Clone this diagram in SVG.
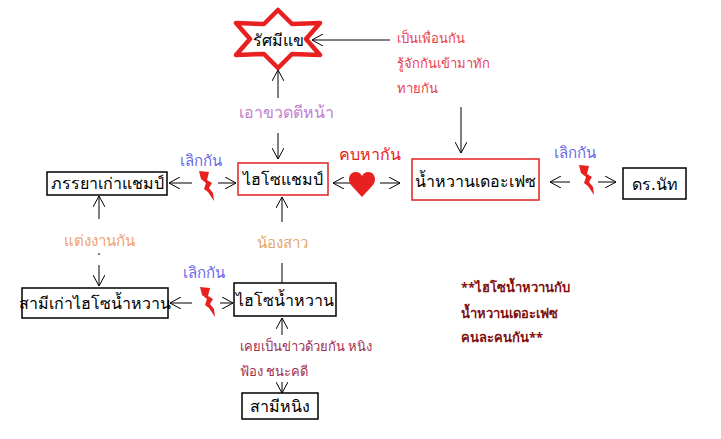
<svg xmlns="http://www.w3.org/2000/svg" width="721" height="439" viewBox="0 0 721 439" xmlns:xlink="http://www.w3.org/1999/xlink">
<style>
text{font-family:"Noto Sans","DejaVu Sans",sans-serif}
.n{font-size:16px;fill:#000;text-anchor:middle}
.bx{fill:#fff;stroke:#000;stroke-width:1.5}
.rb{fill:#fff;stroke:#e02020;stroke-width:1.5}
.c{stroke:#000;stroke-width:1;fill:none}
.blue{fill:#6868e8;font-size:15px;text-anchor:middle}
.lb{font-size:13px}
</style>
<defs>
<marker id="a" markerWidth="12" markerHeight="12" refX="11" refY="6" orient="auto" markerUnits="userSpaceOnUse">
<path d="M0,0 L11,6 L0,12" fill="none" stroke="#000"/></marker>
<path id="bolt" d="M-7,-15 L3,-14 L1,-6 L6,-3 L3,2 L7,7 L8,15 L2,6 L-2,3 L0,-3 L-5,-7 Z" fill="#e82020"/>
</defs>
<rect width="721" height="439" fill="#fff"/>
<g id="connectors" class="c">
<line x1="278" y1="98" x2="278" y2="70" marker-end="url(#a)"/>
<line x1="278" y1="133" x2="278" y2="159" marker-end="url(#a)"/>
<line x1="390" y1="40" x2="312" y2="40" marker-end="url(#a)"/>
<line x1="461" y1="107" x2="461" y2="153" marker-end="url(#a)"/>
<line x1="192" y1="183" x2="169" y2="183" marker-end="url(#a)"/>
<line x1="218" y1="183" x2="236" y2="183" marker-end="url(#a)"/>
<line x1="352" y1="183" x2="333" y2="183" marker-end="url(#a)"/>
<line x1="380" y1="183" x2="400" y2="183" marker-end="url(#a)"/>
<line x1="570" y1="182" x2="550" y2="182" marker-end="url(#a)"/>
<line x1="598" y1="182" x2="616" y2="182" marker-end="url(#a)"/>
<line x1="282" y1="222" x2="282" y2="197" marker-end="url(#a)"/>
<line x1="282" y1="263" x2="282" y2="283"/>
<line x1="99" y1="219" x2="99" y2="196" marker-end="url(#a)"/>
<line x1="99" y1="253" x2="99" y2="255"/>
<line x1="99" y1="265" x2="99" y2="286" marker-end="url(#a)"/>
<line x1="192" y1="303" x2="170" y2="303" marker-end="url(#a)"/>
<line x1="220" y1="303" x2="233" y2="303" marker-end="url(#a)"/>
<line x1="282" y1="335" x2="282" y2="318" marker-end="url(#a)"/>
<line x1="282" y1="382" x2="282" y2="393" marker-end="url(#a)"/>
</g>
<g id="star">
<path d="M278,10 L292,24 L320,23 L306,39 L320,55 L292,54 L278,68 L264,54 L236,55 L250,39 L236,23 L264,24 Z" fill="#fff" stroke="#e82020" stroke-width="4.5" stroke-linejoin="round"/>
<text class="n" x="278" y="46">รัศมีแข</text>
</g>
<g id="champ"><rect class="rb" x="238" y="163" width="90" height="32"/><text class="n" x="283" y="185">ไฮโซแชมป์</text></g>
<g id="exwife"><rect class="bx" x="47" y="172" width="120" height="23"/><text class="n" x="107" y="189" font-size="15">ภรรยาเก่าแชมป์</text></g>
<g id="face"><rect class="rb" x="412" y="159" width="127" height="41"/><text class="n" x="475" y="187">น้ำหวานเดอะเฟซ</text></g>
<g id="nat"><rect class="bx" x="623" y="168" width="63" height="31"/><text class="n" x="655" y="190">ดร.นัท</text></g>
<g id="namwan"><rect class="bx" x="234" y="283" width="102" height="33"/><text class="n" x="285" y="306">ไฮโซน้ำหวาน</text></g>
<g id="exhus"><rect class="bx" x="22" y="288" width="146" height="30"/><text class="n" x="95" y="309" font-size="15">สามีเก่าไฮโซน้ำหวาน</text></g>
<g id="ning"><rect class="bx" x="242" y="393" width="76" height="26"/><text class="n" x="280" y="412">สามีหนิง</text></g>
<g id="labels">
<text x="286" y="118" font-size="16" fill="#c080d0" text-anchor="middle">เอาขวดตีหน้า</text>
<text x="397" y="43" class="lb" fill="#e84050">เป็นเพื่อนกัน</text>
<text x="397" y="68" class="lb" fill="#e84050">รู้จักกันเข้ามาทัก</text>
<text x="397" y="93" class="lb" fill="#e84050">ทายกัน</text>
<text x="370" y="160" font-size="16" fill="#e82020" text-anchor="middle">คบหากัน</text>
<text class="blue" x="201" y="166">เลิกกัน</text>
<text class="blue" x="575" y="158">เลิกกัน</text>
<text class="blue" x="204" y="278">เลิกกัน</text>
<text x="282" y="248" font-size="15" fill="#e0a870" text-anchor="middle">น้องสาว</text>
<text x="99" y="246" font-size="15" fill="#f0a070" text-anchor="middle">แต่งงานกัน</text>
<text x="240" y="351" class="lb" fill="#a03050">เคยเป็นข่าวด้วยกัน หนิง</text>
<text x="240" y="376" class="lb" fill="#a03050">ฟ้อง ชนะคดี</text>
<text x="461" y="292" class="lb" font-weight="bold" fill="#801010">**ไฮโซน้ำหวานกับ</text>
<text x="461" y="318" class="lb" font-weight="bold" fill="#801010">น้ำหวานเดอะเฟซ</text>
<text x="461" y="342" class="lb" font-weight="bold" fill="#801010">คนละคนกัน**</text>
</g>
<g id="icons">
<use xlink:href="#bolt" x="206" y="186"/>
<use xlink:href="#bolt" x="586" y="180"/>
<use xlink:href="#bolt" x="207" y="302"/>
<path d="M362,197 L351,185 C347,180 349,172 356,172 C359,172 361,174 362,176 C363,174 365,172 368,172 C375,172 377,180 373,185 Z" fill="#e82020"/>
</g>
</svg>
